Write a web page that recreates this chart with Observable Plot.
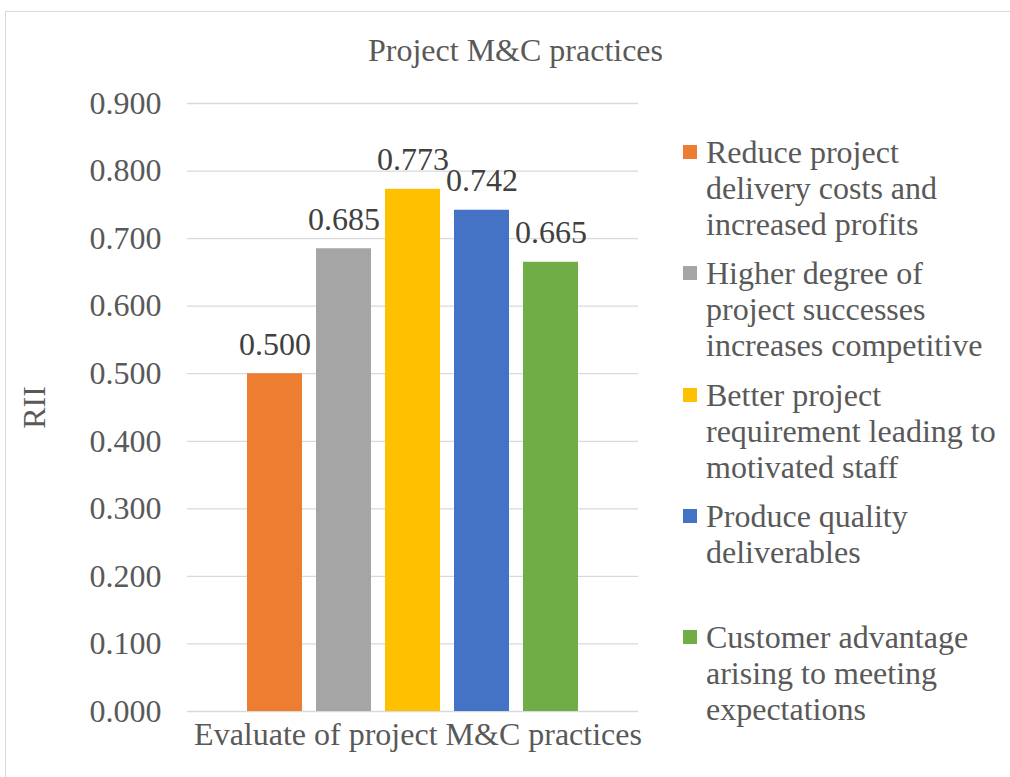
<!DOCTYPE html>
<html>
<head>
<meta charset="utf-8">
<script src="https://cdn.jsdelivr.net/npm/d3@7"></script>
<script src="https://cdn.jsdelivr.net/npm/@observablehq/plot@0.6"></script>
<style>
  html, body { margin: 0; padding: 0; background: #fff; overflow: hidden; }
  #wrap { position: relative; width: 1010px; height: 777px; overflow: hidden; font-family: "Liberation Serif", "Times New Roman", serif; color: #595959; }
  #frame { position: absolute; left: 5px; top: 11px; width: 1100px; height: 900px; border: 1px solid #d9d9d9; box-sizing: border-box; }
  #title { position: absolute; left: 0; top: 30px; width: 1031px; text-align: center; font-size: 32px; line-height: 40px; }
  #chart { position: absolute; left: 0; top: 0; }
  #legend { position: absolute; left: 683px; top: 134px; }
  .item { position: relative; height: 121.3px; }
  .sw { position: absolute; left: 0; top: 11px; width: 14px; height: 14px; }
  .txt { position: absolute; left: 23px; top: 0; font-size: 32px; line-height: 36px; white-space: nowrap; }
</style>
</head>
<body>
<div id="wrap">
  <div id="frame"></div>
  <div id="chart"></div>
  <div id="title"></div>
  <div id="legend"></div>
</div>
<script>
const chartTitle = "Project M&C practices";
const categories = ["Evaluate of project M&C practices"];
const series = [
  "Reduce project delivery costs and increased profits",
  "Higher degree of project successes increases competitive",
  "Better project requirement leading to motivated staff",
  "Produce quality deliverables",
  "Customer advantage arising to meeting expectations"
];
const legendLines = [
  ["Reduce project", "delivery costs and", "increased profits"],
  ["Higher degree of", "project successes", "increases competitive"],
  ["Better project", "requirement leading to", "motivated staff"],
  ["Produce quality", "deliverables"],
  ["Customer advantage", "arising to meeting", "expectations"]
];
const values = [0.500, 0.685, 0.773, 0.742, 0.665];
const colors = ["#ED7D31", "#A5A5A5", "#FFC000", "#4472C4", "#70AD47"];
const yTicks = [0, 0.1, 0.2, 0.3, 0.4, 0.5, 0.6, 0.7, 0.8, 0.9];
const yLabel = "RII";

const data = series.map((s, i) => ({cat: categories[0], series: s, value: values[i]}));
const fmt = d3.format(".3f");

const chart = Plot.plot({
  width: 1010,
  height: 777,
  marginLeft: 187,
  marginRight: 372,
  marginTop: 103,
  marginBottom: 66,
  style: {fontFamily: "'Liberation Serif', 'Times New Roman', serif", color: "#595959", background: "transparent", overflow: "visible"},
  fx: {domain: categories, padding: 0, axis: null},
  x: {domain: series, paddingInner: 0.206, paddingOuter: 0.86, axis: null},
  y: {domain: [0, 0.9], axis: null},
  color: {domain: series, range: colors},
  marks: [
    Plot.ruleY(yTicks, {y: d => d, stroke: "#d9d9d9", strokeWidth: 1.3}),
    Plot.axisY(yTicks, {anchor: "left", tickSize: 0, tickPadding: 26, tickFormat: fmt, fontSize: 32, fill: "#595959", label: yLabel, labelAnchor: "center", labelOffset: 165, labelArrow: "none"}),
    Plot.axisFx({anchor: "bottom", tickSize: 0, tickPadding: 11, fontSize: 32, dx: 5, fill: "#595959", label: null}),
    Plot.barY(data, {fx: "cat", x: "series", y: "value", fill: "series"}),
    Plot.text(data, {fx: "cat", x: "series", y: "value", text: d => fmt(d.value), dy: -19, fontSize: 32, fill: "#404040", lineAnchor: "bottom"})
  ]
});
document.getElementById("chart").appendChild(chart);
document.getElementById("title").textContent = chartTitle;

const legend = d3.select("#legend");
series.forEach((s, i) => {
  const it = legend.append("div").attr("class", "item");
  it.append("div").attr("class", "sw").style("background", colors[i]);
  it.append("div").attr("class", "txt").html(legendLines[i].map(l => l.replace(/&/g, "&amp;")).join("<br>"));
});
</script>
</body>
</html>
